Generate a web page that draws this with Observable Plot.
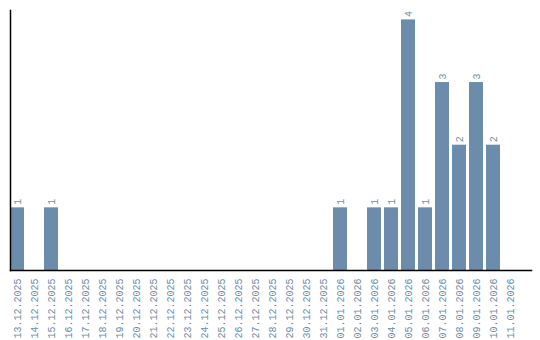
<!DOCTYPE html>
<html>
<head>
<meta charset="utf-8">
<script src="https://cdn.jsdelivr.net/npm/d3@7"></script>
<script src="https://cdn.jsdelivr.net/npm/@observablehq/plot@0.6"></script>
<style>
  html, body { margin: 0; padding: 0; background: #fff; }
</style>
</head>
<body>
<div id="chart"></div>
<script>
const dates = ["13.12.2025","14.12.2025","15.12.2025","16.12.2025","17.12.2025","18.12.2025","19.12.2025","20.12.2025","21.12.2025","22.12.2025","23.12.2025","24.12.2025","25.12.2025","26.12.2025","27.12.2025","28.12.2025","29.12.2025","30.12.2025","31.12.2025","01.01.2026","02.01.2026","03.01.2026","04.01.2026","05.01.2026","06.01.2026","07.01.2026","08.01.2026","09.01.2026","10.01.2026","11.01.2026"];
const counts = [1,0,1,0,0,0,0,0,0,0,0,0,0,0,0,0,0,0,0,1,0,1,1,4,1,3,2,3,2,0];

const data = dates.map((d, i) => ({date: d, count: counts[i]}));
const nonzero = data.filter(d => d.count > 0);
const color = "#6b8cab";
const font = "'Liberation Mono', 'DejaVu Sans Mono', monospace";

const chart = Plot.plot({
  width: 540,
  height: 340,
  marginTop: 10,
  marginLeft: 10,
  marginRight: 9,
  marginBottom: 70,
  style: {fontFamily: font, fontSize: "10px", background: "#fff"},
  x: {domain: dates, paddingInner: 0.18, paddingOuter: 0.41, align: 0, label: null},
  y: {domain: [0, 4.15], axis: null},
  marks: [
    Plot.barY(nonzero, {x: "date", y: "count", fill: color}),
    Plot.text(nonzero, {x: "date", y: "count", text: d => String(d.count), rotate: -90, textAnchor: "start", dy: -3, fill: color, fontSize: 10}),
    Plot.axisX({tickRotate: -90, tickSize: 0, tickPadding: 8, color: color, fontSize: 10, label: null}),
    Plot.frame({anchor: "left", stroke: "#000", strokeWidth: 1.5}),
    Plot.frame({anchor: "bottom", stroke: "#000", strokeWidth: 1.5})
  ]
});
document.getElementById("chart").appendChild(chart);
</script>
</body>
</html>
